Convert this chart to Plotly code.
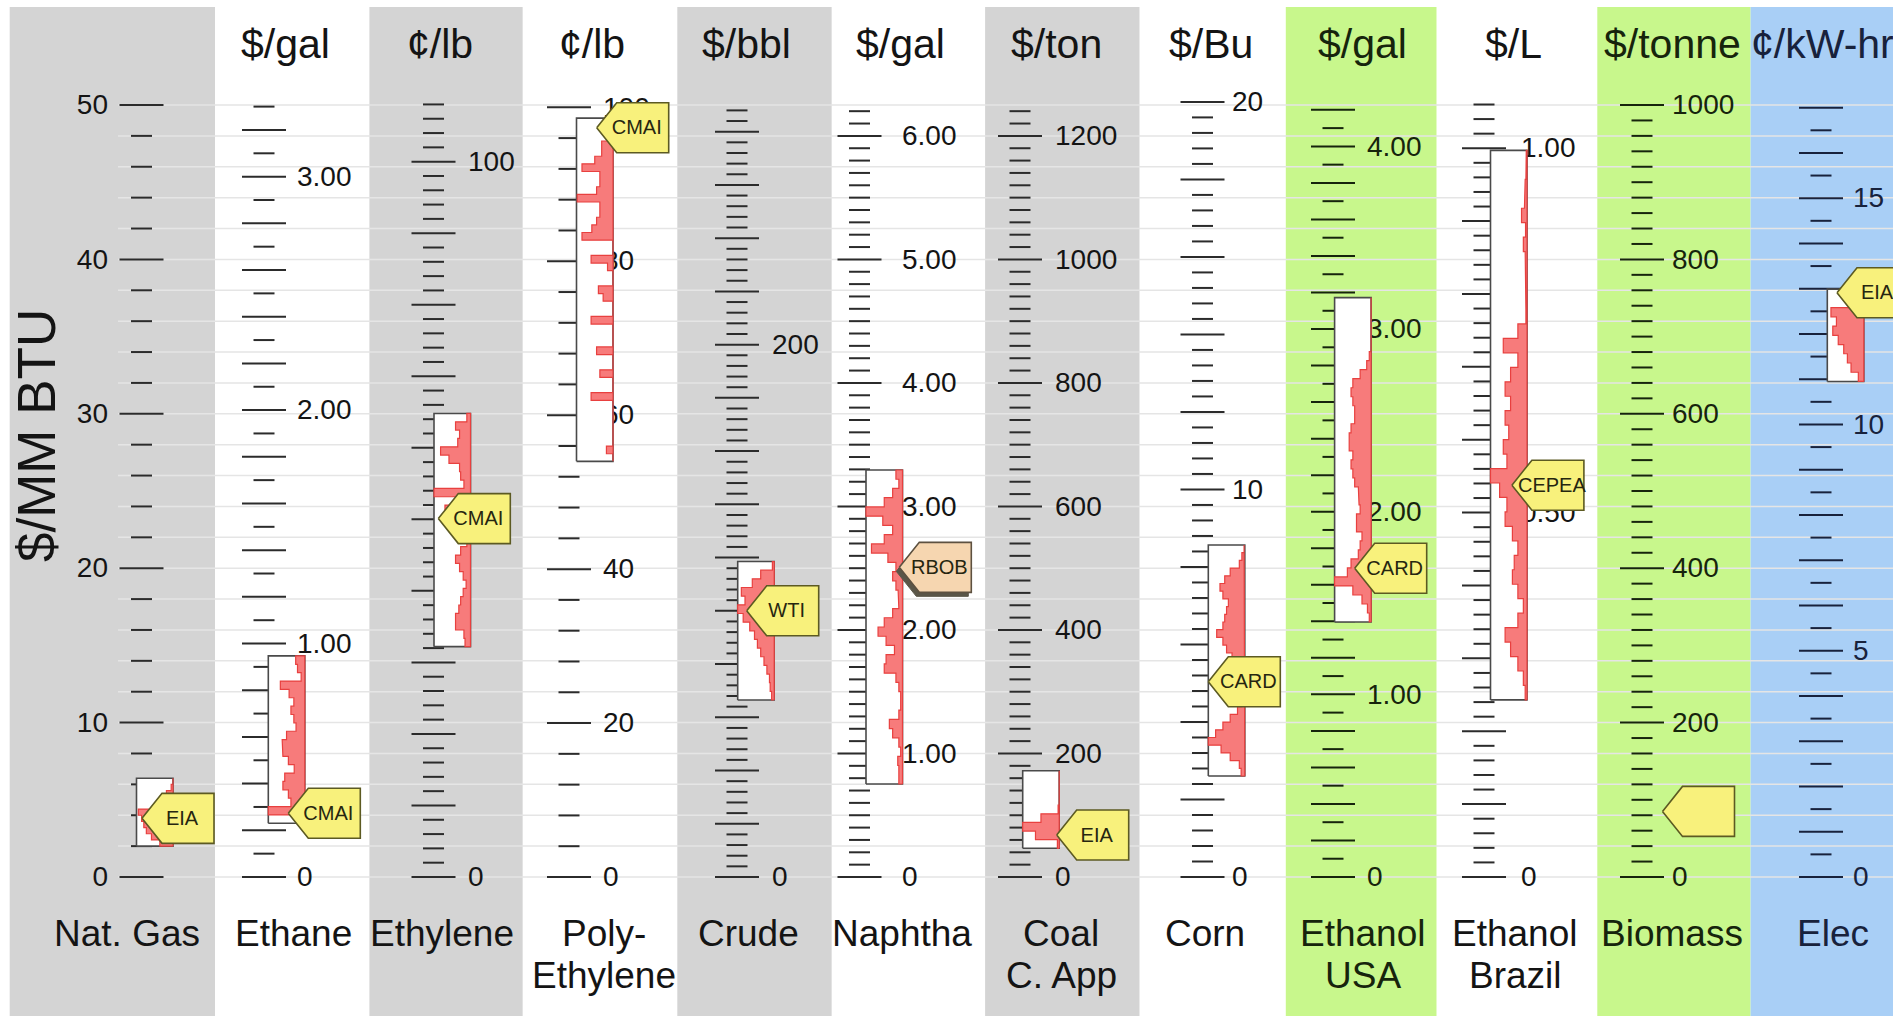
import plotly.graph_objects as go
import numpy as np

# ---------------- data ----------------
categories = ["Nat. Gas", "Ethane", "Ethylene", "Poly-<br>Ethylene", "Crude", "Naphtha",
              "Coal<br>C. App", "Corn", "Ethanol<br>USA", "Ethanol<br>Brazil", "Biomass", "Elec"]
units = ["", "$/gal", "¢/lb", "¢/lb", "$/bbl", "$/gal", "$/ton", "$/Bu", "$/gal", "$/L", "$/tonne", "¢/kW-hr"]
# conversion of each native unit into $/MM BTU
to_mmbtu = [1.0, 15.12, 0.4633, 0.4985, 0.1724, 8.0, 0.04, 2.51, 11.83, 47.2, 0.05, 2.931]

tick_minor = [2, 0.1, 2, 4, 4, 0.1, 20, 0.4, 0.1, 0.02, 20, 0.5]
tick_major = [10, 0.2, 10, 20, 20, 1.0, 200, 2, 0.2, 0.1, 200, 1]
tick_max = [50, 3.3, 108, 100, 288, 6.2, 1240, 20, 4.2, 1.06, 1000, 17]
tick_labels = [
    [0, 10, 20, 30, 40, 50],
    [0, 1, 2, 3],
    [0, 100],
    [0, 20, 40, 60, 80, 100],
    [0, 200],
    [0, 1, 2, 3, 4, 5, 6],
    [0, 200, 400, 600, 800, 1000, 1200],
    [0, 10, 20],
    [0, 1, 2, 3, 4],
    [0, 0.5, 1.0],
    [0, 200, 400, 600, 800, 1000],
    [0, 5, 10, 15],
]
label_decimals = [0, 2, 0, 0, 0, 2, 0, 0, 2, 2, 0, 0]

# price range of each histogram box (native units)
price_lo = [2.0, 0.230, 32.2, 54.0, 66.5, 0.753, 46.5, 2.606, 1.396, 0.243, None, 10.95]
price_hi = [6.4, 0.947, 64.8, 98.6, 118.5, 3.295, 172.1, 8.567, 3.172, 0.997, None, 12.99]

# relative frequency per bin, from low price to high price
hist_natgas = [0.36, 0.59, 0.73, 0.8, 0.86, 0.95, 0.5, 0.35, 0.18, 0.05, 0.0]
hist_ethane = [0.0, 1.0, 0.38, 0.45, 0.6, 0.55, 0.29, 0.45, 0.6, 0.62, 0.5, 0.24, 0.3, 0.38,
               0.3, 0.43, 0.67, 0.1, 0.2, 0.25]
hist_ethylene = [0.15, 0.18, 0.41, 0.41, 0.32, 0.27, 0.2, 0.12, 0.2, 0.3, 0.41, 0.27, 0.1, 0.05,
                 0.05, 0.3, 0.7, 0.1, 1.0, 0.18, 0.27, 0.3, 0.59, 0.82, 0.35, 0.3, 0.41, 0.1]
hist_poly = [0, 0.18, 0, 0, 0, 0, 0, 0, 0.6, 0, 0, 0.36, 0, 0, 0.45, 0, 0, 0, 0.6, 0, 0,
             0.27, 0.4, 0, 0, 0.15, 0.6, 0, 0, 0.85, 0.58, 0.45, 0.36, 0.36, 0.98, 0.45, 0.36,
             0.36, 0.85, 0.5, 0.31, 0.31, 0.1, 0, 0]
hist_crude = [0.07, 0.11, 0.13, 0.2, 0.28, 0.37, 0.46, 0.54, 0.67, 0.85, 1.0, 0.8, 0.9, 0.6,
              0.37, 0.05]
hist_naphtha = [0.1, 0.1, 0.13, 0.05, 0.1, 0.27, 0.36, 0.1, 0.05, 0.05, 0.1, 0.18, 0.5, 0.45,
                0.22, 0.45, 0.67, 0.5, 0.27, 0.1, 0.12, 0.18, 0.27, 0.18, 0.4, 0.85, 0.5, 0.27,
                0.54, 1.0, 0.5, 0.27, 0.1, 0.18]
hist_coal = [0.05, 0.65, 1.0, 0.5, 0.03, 0, 0, 0, 0]
hist_corn = [0.1, 0.15, 0.4, 0.65, 1.0, 0.8, 0.6, 0.4, 0.2, 0.1, 0.05, 0.05, 0.05, 0.1, 0.2,
             0.35, 0.5, 0.6, 0.77, 0.6, 0.55, 0.5, 0.45, 0.6, 0.68, 0.55, 0.4, 0.15, 0.08, 0.02]
hist_ethanol_usa = [0.05, 0.1, 0.25, 0.5, 1.0, 0.65, 0.55, 0.35, 0.3, 0.25, 0.4, 0.4, 0.3, 0.33,
                    0.35, 0.45, 0.5, 0.55, 0.5, 0.6, 0.6, 0.55, 0.45, 0.45, 0.5, 0.55, 0.5, 0.3,
                    0.12, 0.05, 0, 0, 0, 0, 0, 0]
hist_ethanol_brazil = [0.05, 0.1, 0.25, 0.45, 0.6, 0.25, 0.1, 0.25, 0.4, 0.35, 0.25, 0.4, 0.6,
                       0.55, 0.75, 1.0, 0.55, 0.65, 0.5, 0.6, 0.45, 0.6, 0.45, 0.25, 0.65, 0.25,
                       0.03, 0.03, 0.04, 0.03, 0.05, 0.1, 0.04, 0.15, 0.07, 0.05, 0.03, 0.02]
hist_biomass = None
hist_elec = [0.15, 0.35, 0.45, 0.55, 0.7, 0.85, 0.75, 0.9, 0.0, 0.0]
histograms = [hist_natgas, hist_ethane, hist_ethylene, hist_poly, hist_crude, hist_naphtha,
              hist_coal, hist_corn, hist_ethanol_usa, hist_ethanol_brazil, hist_biomass, hist_elec]

# current price flag (native units) and its source
marker_price = [3.8, 0.273, 50.1, 97.35, 100.0, 2.507, 68.0, 5.04, 1.69, 0.5376, 85.0, 12.91]
marker_source = ["EIA", "CMAI", "CMAI", "CMAI", "WTI", "RBOB", "EIA", "CARD", "CARD", "CEPEA", "", "EIA"]

# ---------------- layout / style ----------------
W, H = 1893, 1016
PXU = 15.44          # pixels per $/MM BTU
Y0PX = 877           # pixel row of zero
Y_HI = Y0PX / PXU
Y_LO = -(H - Y0PX) / PXU


def yp(p):
    """pixel row -> y value"""
    return (Y0PX - p) / PXU


GRAY, WHITE, GREEN, BLUE = "#d4d4d4", "#ffffff", "#c8f78c", "#a9cff6"
col_edges = [9.7, 215, 369.4, 522.8, 677.3, 831.8, 985.1, 1139.7, 1285.8, 1436.7, 1597.3, 1750.6, 1893]
col_colors = [GRAY, WHITE, GRAY, WHITE, GRAY, WHITE, GRAY, WHITE, GREEN, WHITE, GREEN, BLUE]
ink = ["#141414"] * 8 + ["#16240c", "#141414", "#16240c", "#18223c"]
tick_cx = [141.5, 264, 433.5, 569, 737, 859.5, 1020, 1202.5, 1333, 1484, 1642, 1821]
label_x = [108, 297, 468, 603, 772, 902, 1055, 1232, 1367, 1521, 1672, 1853]
LABEL_DY = 2.2       # pixel nudge of tick labels below their tick
box_x0 = [136.5, 268.3, 434, 576.5, 737.7, 866, 1022.7, 1208.3, 1334.6, 1490.5, None, 1827.3]
BOX_W = 36.5
tip_x = [142, 288.3, 438.3, 596.7, 746.7, 899.3, 1056.7, 1208.3, 1354.7, 1511.9, 1662.5, 1837]
unit_x = [None, 285, 439.5, 591.6, 746, 900.7, 1056, 1211, 1362, 1513, 1672, 1822]
name_x = [127, 293, 442, 604, 748.5, 902, 1061, 1205, 1363, 1515, 1672, 1833]
FONT = "Liberation Sans, Arial, Helvetica, sans-serif"
TXT = "#141414"
TICK_LONG, TICK_SHORT = 22, 10.5
PENT_W, PENT_D, PENT_HH = 72, 20, 25

fig = go.Figure()
shapes = []
annotations = []

# column backgrounds
for i, c in enumerate(col_colors):
    shapes.append(dict(type="rect", xref="x", yref="y", x0=col_edges[i], x1=col_edges[i + 1],
                       y0=Y_LO - 1, y1=yp(7), fillcolor=c, line=dict(width=0), layer="below"))
# horizontal grid lines every 2 $/MM BTU
for g in range(0, 51, 2):
    shapes.append(dict(type="line", xref="x", yref="y", x0=118, x1=W, y0=g, y1=g,
                       line=dict(color="#e5e5e5", width=1.5), layer="below"))

for i in range(len(categories)):
    f = to_mmbtu[i]
    # ticks
    n = int(round(tick_max[i] / tick_minor[i]))
    xs, ys = [], []
    for k in range(n + 1):
        v = k * tick_minor[i]
        r = v / tick_major[i]
        half = TICK_LONG if abs(r - round(r)) < 1e-6 else TICK_SHORT
        xs += [tick_cx[i] - half, tick_cx[i] + half, None]
        ys += [v * f, v * f, None]
    tick_col = "#2b2b2b" if ink[i] == TXT else ink[i]
    fig.add_trace(go.Scatter(x=xs, y=ys, mode="lines", line=dict(color=tick_col, width=2),
                             hoverinfo="skip"))
    # tick labels (drawn under the boxes)
    txt = ["0" if v == 0 else f"{v:.{label_decimals[i]}f}" for v in tick_labels[i]]
    fig.add_trace(go.Scatter(x=[label_x[i]] * len(txt),
                             y=[v * f - LABEL_DY / PXU for v in tick_labels[i]],
                             mode="text", text=txt,
                             textposition="middle left" if i == 0 else "middle right",
                             textfont=dict(family=FONT, size=28, color=ink[i]), hoverinfo="skip"))

for i in range(len(categories)):
    f = to_mmbtu[i]
    hist = histograms[i]
    if hist is not None:
        lo, hi = price_lo[i] * f, price_hi[i] * f
        x0, x1 = box_x0[i], box_x0[i] + BOX_W
        fig.add_trace(go.Scatter(x=[x0, x1, x1, x0, x0], y=[lo, lo, hi, hi, lo], mode="lines",
                                 fill="toself", fillcolor="white",
                                 line=dict(color="#4a4a4a", width=1.6), hoverinfo="skip"))
        edges = np.linspace(price_lo[i], price_hi[i], len(hist) + 1) * f
        hx, hy = [x1], [edges[0]]
        for b, L in enumerate(hist):
            xl = x1 - L * BOX_W
            hx += [xl, xl]
            hy += [edges[b], edges[b + 1]]
        hx += [x1, x1]
        hy += [edges[-1], edges[0]]
        fig.add_trace(go.Scatter(x=hx, y=hy, mode="lines", fill="toself", fillcolor="#f77b7b",
                                 line=dict(color="#e8403f", width=1.2), hoverinfo="skip"))

# price flags
for i in range(len(categories)):
    ty = marker_price[i] * to_mmbtu[i]
    tx = tip_x[i]
    hh = PENT_HH / PXU
    px = [tx, tx + PENT_D, tx + PENT_W, tx + PENT_W, tx + PENT_D, tx]
    py = [ty, ty + hh, ty + hh, ty - hh, ty - hh, ty]
    fill, edge = "#f8f17c", "#5c5a22"
    if marker_source[i] == "RBOB":
        fill, edge = "#f6d6b0", "#5d5140"
        fig.add_trace(go.Scatter(x=[p - 3 for p in px], y=[p - 4 / PXU for p in py], mode="lines",
                                 fill="toself", fillcolor="#5a5648", line=dict(color="#5a5648", width=1),
                                 hoverinfo="skip"))
    fig.add_trace(go.Scatter(x=px, y=py, mode="lines", fill="toself", fillcolor=fill,
                             line=dict(color=edge, width=1.6), hoverinfo="skip"))
    if marker_source[i]:
        fig.add_trace(go.Scatter(x=[tx + PENT_W * 0.5 + 4], y=[ty - 1.5 / PXU], mode="text",
                                 text=[marker_source[i]], textposition="middle center",
                                 textfont=dict(family=FONT, size=20, color="#262610"),
                                 hoverinfo="skip"))

# unit headers and category names
for i in range(len(categories)):
    if units[i]:
        annotations.append(dict(x=unit_x[i], y=yp(44), xref="x", yref="y", text=units[i],
                                showarrow=False, xanchor="center", yanchor="middle",
                                font=dict(family=FONT, size=41, color=ink[i])))
    for j, line in enumerate(categories[i].split("<br>")):
        annotations.append(dict(x=name_x[i], y=yp(933 + 42.5 * j), xref="x", yref="y", text=line,
                                showarrow=False, xanchor="center", yanchor="middle",
                                font=dict(family=FONT, size=37, color=ink[i])))

annotations.append(dict(x=36, y=yp(436), xref="x", yref="y", text="$/MM BTU", textangle=-90,
                        showarrow=False, xanchor="center", yanchor="middle",
                        font=dict(family=FONT, size=53, color=TXT)))

fig.update_layout(
    width=W, height=H, margin=dict(l=0, r=0, t=0, b=0),
    paper_bgcolor="white", plot_bgcolor="white", showlegend=False,
    xaxis=dict(range=[0, W], visible=False, fixedrange=True),
    yaxis=dict(range=[Y_LO, Y_HI], visible=False, fixedrange=True),
    shapes=shapes, annotations=annotations,
)
fig.write_html("out.html", config={"displayModeBar": False},
               post_script="document.body.style.margin='0';document.body.style.overflow='hidden';")
